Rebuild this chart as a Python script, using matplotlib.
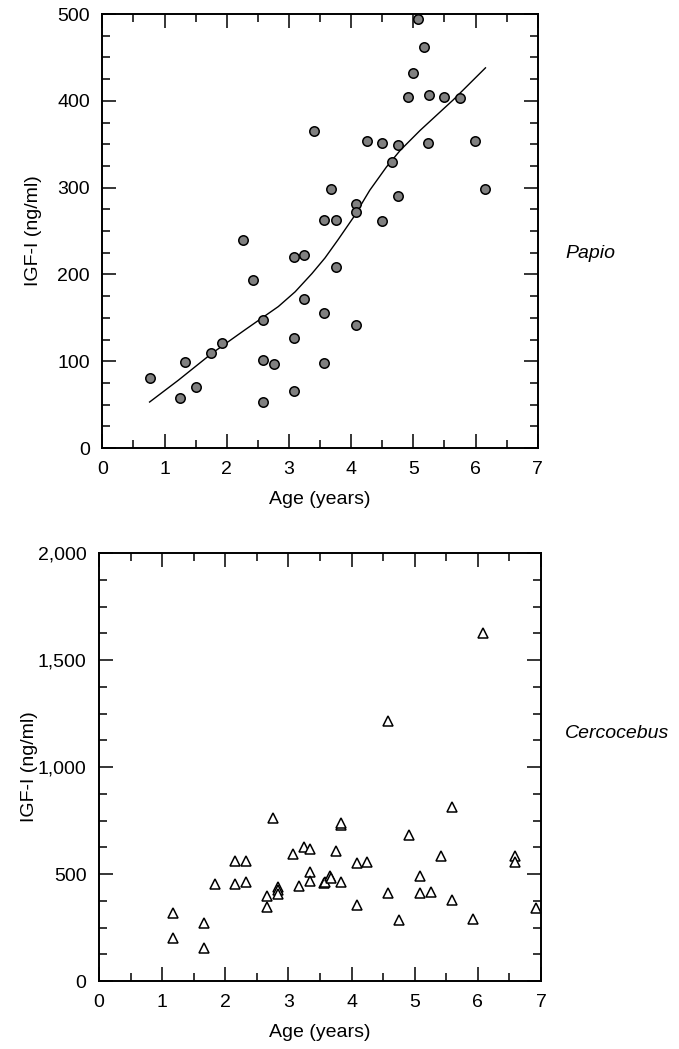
import matplotlib
matplotlib.use("Agg")
import matplotlib.pyplot as plt
from matplotlib.ticker import MultipleLocator, FixedLocator

plt.rcParams['font.family'] = ['Liberation Sans', 'DejaVu Sans']

# Papio: age (years) vs IGF-I (ng/ml)
papio_age = [0.76, 1.25, 1.33, 1.51, 1.75, 1.92, 2.26, 2.42, 2.59, 2.59, 2.59,
             2.76, 3.08, 3.08, 3.08, 3.25, 3.25, 3.41, 3.56, 3.56, 3.56, 3.67,
             3.75, 3.75, 4.08, 4.08, 4.08, 4.25, 4.50, 4.50, 4.66, 4.75, 4.75,
             4.91, 5.00, 5.08, 5.17, 5.24, 5.25, 5.49, 5.75, 5.99, 6.16]
papio_igf = [81, 58, 99, 70, 109, 121, 240, 194, 147, 101, 53,
             97, 220, 127, 66, 222, 172, 365, 263, 156, 98, 299,
             263, 209, 281, 272, 142, 354, 352, 262, 330, 349, 290,
             404, 432, 494, 462, 352, 407, 404, 403, 354, 299]

# fitted curve for Papio
fit_age = [0.76, 1.22, 1.76, 2.29, 2.83, 3.10, 3.37, 3.58, 3.79, 4.04,
           4.30, 4.57, 4.79, 5.11, 5.64, 6.16]
fit_igf = [53, 78, 109, 136, 163, 180, 201, 219, 240, 266,
           297, 324, 343, 366, 401, 438]

# Cercocebus
cerco_age = [1.17, 1.17, 1.66, 1.66, 1.83, 2.16, 2.16, 2.33, 2.33, 2.66,
             2.66, 2.75, 2.83, 2.83, 2.83, 3.08, 3.17, 3.25, 3.34, 3.34,
             3.34, 3.56, 3.58, 3.66, 3.68, 3.75, 3.83, 3.84, 3.83, 4.08,
             4.08, 4.25, 4.58, 4.58, 4.75, 4.91, 5.08, 5.08, 5.25, 5.42,
             5.59, 5.59, 5.92, 6.08, 6.58, 6.58, 6.92]
cerco_igf = [318, 202, 270, 153, 453, 562, 455, 562, 464, 399,
             347, 760, 441, 425, 407, 592, 444, 625, 615, 511,
             469, 459, 461, 490, 480, 607, 730, 740, 461, 550,
             354, 557, 1216, 410, 284, 682, 491, 410, 416, 583,
             812, 380, 291, 1625, 584, 557, 343]

top_yticks = [0, 100, 200, 300, 400, 500]
top_ylabels = ["0", "100", "200", "300", "400", "500"]
bot_yticks = [0, 500, 1000, 1500, 2000]
bot_ylabels = ["0", "500", "1,000", "1,500", "2,000"]
xticks = [0, 1, 2, 3, 4, 5, 6, 7]

FS = 14


def style_axes(ax, yticks, ylabels, yminor):
    ax.set_xlim(0, 7)
    ax.set_ylim(yticks[0], yticks[-1])
    ax.xaxis.set_major_locator(FixedLocator(xticks))
    ax.xaxis.set_minor_locator(MultipleLocator(0.5))
    ax.set_yticks(yticks)
    ax.set_yticklabels(ylabels)
    ax.yaxis.set_minor_locator(MultipleLocator(yminor))
    ax.tick_params(which='both', direction='in', top=True, right=True,
                   labelsize=FS, width=1.1, pad=9)
    ax.tick_params(which='major', length=10)
    ax.tick_params(which='minor', length=5.5)
    for s in ax.spines.values():
        s.set_linewidth(1.4)
    ax.set_xlabel("Age (years)", fontsize=FS, labelpad=10)
    ax.set_ylabel("IGF-I (ng/ml)", fontsize=FS)


fig = plt.figure(figsize=(6.79, 10.49), dpi=100)
ax1 = fig.add_axes([0.1507, 0.5729, 0.6412, 0.4137])
ax2 = fig.add_axes([0.1458, 0.0648, 0.6510, 0.4080])

ax1.plot(fit_age, fit_igf, color='black', linewidth=1.0, zorder=2)
ax1.plot(papio_age, papio_igf, linestyle='none', marker='o', markersize=6.8,
         markerfacecolor='#808080', markeredgecolor='black', markeredgewidth=1.1,
         zorder=3, clip_on=False)
style_axes(ax1, top_yticks, top_ylabels, 25)
ax1.yaxis.set_label_coords(-0.1385, 0.5)

ax2.plot(cerco_age, cerco_igf, linestyle='none', marker='^', markersize=7.5,
         markerfacecolor='white', markeredgecolor='black', markeredgewidth=1.1,
         clip_on=False)
style_axes(ax2, bot_yticks, bot_ylabels, 125)
ax2.yaxis.set_label_coords(-0.138, 0.5)

fig.text(0.832, 0.7588, "Papio", fontsize=FS, style='italic', va='center')
fig.text(0.832, 0.3012, "Cercocebus", fontsize=FS, style='italic', va='center')

fig.savefig("out.png", dpi=100)
